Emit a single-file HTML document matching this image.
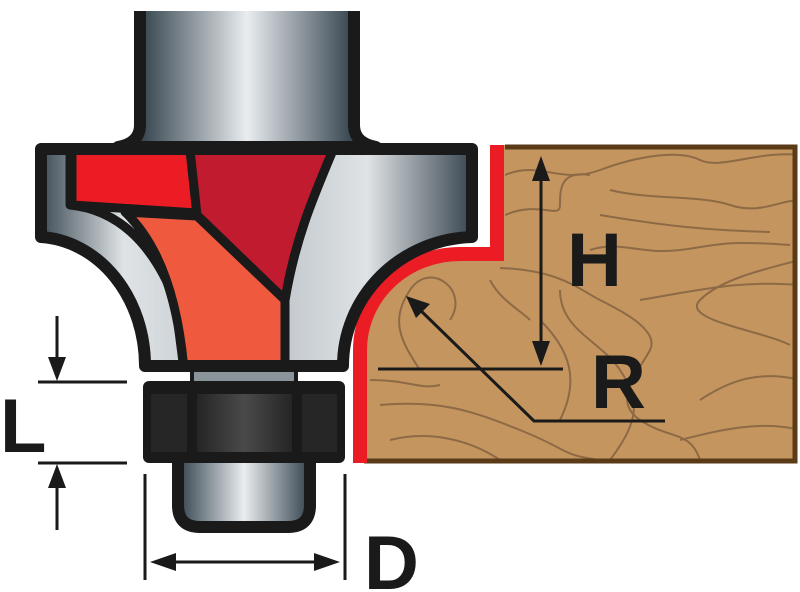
<!DOCTYPE html>
<html><head><meta charset="utf-8"><style>html,body{margin:0;padding:0;background:#fff}svg{display:block}</style></head>
<body>
<svg width="800" height="592" viewBox="0 0 800 592" xmlns="http://www.w3.org/2000/svg">
<defs>
<linearGradient id="sh" x1="140" x2="354" y1="0" y2="0" gradientUnits="userSpaceOnUse">
<stop offset="0" stop-color="#34434d"/><stop offset="0.5" stop-color="#e9edf0"/><stop offset="1" stop-color="#34434d"/></linearGradient>
<linearGradient id="bd" x1="35" x2="478" y1="0" y2="0" gradientUnits="userSpaceOnUse">
<stop offset="0" stop-color="#33424c"/><stop offset="0.2" stop-color="#dfe3e6"/><stop offset="0.5" stop-color="#b9c0c5"/><stop offset="0.75" stop-color="#dfe3e6"/><stop offset="1" stop-color="#2f3d47"/></linearGradient>
<linearGradient id="pn" x1="178" x2="310" y1="0" y2="0" gradientUnits="userSpaceOnUse">
<stop offset="0" stop-color="#33424c"/><stop offset="0.5" stop-color="#e9edf0"/><stop offset="1" stop-color="#33424c"/></linearGradient>
<linearGradient id="br" x1="197" x2="292" y1="0" y2="0" gradientUnits="userSpaceOnUse">
<stop offset="0" stop-color="#252525"/><stop offset="0.5" stop-color="#4a4a4a"/><stop offset="1" stop-color="#252525"/></linearGradient>
<clipPath id="bc"><path d="M41,149 H472 V237 A133,129 0 0 0 343,366 H145 A110,129 0 0 0 41,237 Z"/></clipPath>
<clipPath id="wc"><path d="M505,148 H795 V461 H364 V350 A100,96 0 0 1 460,254 H505 Z"/></clipPath>
</defs>

<!-- wood -->
<path d="M497,145 H797 V463 H358 V350 A100,96 0 0 1 460,254 H497 Z" fill="#c4955f"/>
<g clip-path="url(#wc)" fill="none" stroke="#8d6a45" stroke-width="2">
<path d="M505,175 C540,160 560,185 600,170 S680,150 700,160 S760,150 800,155"/>
<path d="M610,190 C650,200 700,195 730,205 S780,200 800,200"/>
<path d="M505,215 C540,200 560,220 560,205 S560,170 590,175"/>
<path d="M600,215 C660,225 700,230 770,232"/>
<path d="M590,250 C620,240 640,255 680,250 S720,240 790,245"/>
<path d="M500,268 C560,270 580,290 600,300 S660,330 650,350 S610,400 640,420 S690,430 700,460"/>
<path d="M560,290 C560,330 600,340 620,370 S640,420 610,460"/>
<path d="M640,300 C700,290 740,280 800,285"/>
<path d="M800,260 C760,270 720,280 700,300 S760,330 790,345"/>
<path d="M450,320 C470,290 430,260 410,290 S400,340 420,370"/>
<path d="M370,380 C410,380 420,390 440,385"/>
<path d="M380,405 C440,400 470,410 520,430 S560,455 600,460"/>
<path d="M700,400 C730,380 760,370 800,380"/>
<path d="M540,320 C570,350 580,380 560,420"/>
<path d="M390,440 C430,430 470,440 500,460"/>
<path d="M680,440 C720,430 760,420 800,430"/>
<path d="M490,280 C500,300 520,310 530,320"/>
</g>
<path d="M505,147 H795 V461 H364" fill="none" stroke="#5a3a17" stroke-width="5"/>
<path d="M497,145 V254 H460 A100,96 0 0 0 360,350 V463" fill="none" stroke="#ec1c24" stroke-width="14"/>

<!-- shank -->
<path d="M140,11 V125 Q140,143 118,147 H376 Q354,143 354,125 V11" fill="url(#sh)" stroke="#1a1a1a" stroke-width="12" stroke-linejoin="round"/>

<!-- body -->
<path d="M41,149 H472 V237 A133,129 0 0 0 343,366 H145 A110,129 0 0 0 41,237 Z" fill="url(#bd)"/>
<g clip-path="url(#bc)" stroke="#1a1a1a" stroke-width="9" stroke-linejoin="round">
<path d="M70,150 V205 Q140,212 175,300 L184,370" fill="none"/>
<path d="M72,150 H190 L197,213 L72,205 Z" fill="#ec1c24"/>
<path d="M190,150 H333 C312,200 295,240 285,300 L197,215 Z" fill="#c11b30"/>
<path d="M125,212 L197,216 L285,300 L285,370 H184 C178,300 160,245 125,212 Z" fill="#ef5a3f"/>
<path d="M333,150 C312,200 295,240 285,300 V370" fill="none"/>
</g>
<path d="M41,149 H472 V237 A133,129 0 0 0 343,366 H145 A110,129 0 0 0 41,237 Z" fill="none" stroke="#1a1a1a" stroke-width="12" stroke-linejoin="round"/>

<!-- shaft gap -->
<rect x="192" y="370" width="104" height="14" fill="#8a949b" stroke="#1a1a1a" stroke-width="4"/>
<!-- pin -->
<path d="M178,460 V505 Q178,527 200,527 H288 Q310,527 310,505 V460" fill="url(#pn)" stroke="#1a1a1a" stroke-width="12" stroke-linejoin="round"/>
<!-- bearing -->
<rect x="143" y="381" width="202" height="82" rx="6" fill="#1a1a1a"/>
<rect x="151" y="394" width="36" height="58" fill="#262626"/>
<rect x="197" y="394" width="95" height="58" fill="url(#br)"/>
<rect x="302" y="394" width="35" height="58" fill="#262626"/>

<!-- dimension lines -->
<g stroke="#1a1a1a" stroke-width="3" fill="none">
<path d="M38,382 H127 M38,463 H127 M57,316 V370 M57,475 V530"/>
<path d="M145,474 V580 M345,474 V580 M165,562 H325"/>
<path d="M541,170 V352 M378,369 H563"/>
<path d="M415,305 L534,421 H665"/>
</g>
<g fill="#1a1a1a">
<polygon points="57,381 48,357 66,357"/>
<polygon points="57,464 48,488 66,488"/>
<polygon points="150,562 176,553 176,571"/>
<polygon points="340,562 314,553 314,571"/>
<polygon points="541,156 532,181 550,181"/>
<polygon points="541,366 532,341 550,341"/>
<polygon points="406,296 416,318 430,304"/>
</g>
<g font-family="Liberation Sans, sans-serif" font-weight="bold" font-size="76" fill="#1a1a1a">
<text x="0" y="452">L</text>
<text x="364" y="589">D</text>
<text x="567" y="286">H</text>
<text x="591" y="408">R</text>
</g>
</svg>
</body></html>
